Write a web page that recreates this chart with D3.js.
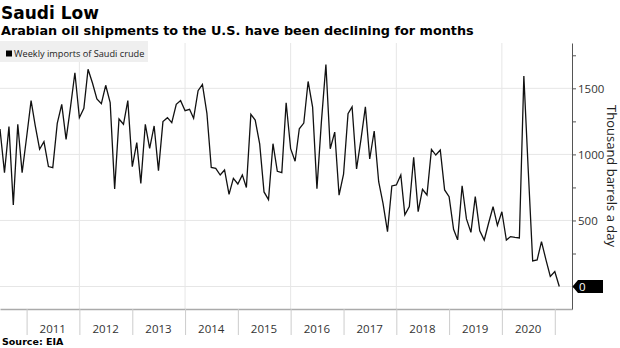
<!DOCTYPE html>
<html>
<head>
<meta charset="utf-8">
<script src="https://cdn.jsdelivr.net/npm/d3@7"></script>
<style>
  body { margin: 0; background: #fff; }
  svg { display: block; }
</style>
</head>
<body>
<div id="chart-area"></div>
<script>
var width = 620;
var height = 348;
var plotLeft = 0, plotRight = 572, plotTop = 43, plotBottom = 309;

// monthly points, first one is July 2010
var startMonth = new Date(2010, 6, 1);
var imports = [
  1192, 862, 1210, 618, 1228, 862, 1130, 1407, 1222, 1039, 1097, 908,
  900, 1235, 1379, 1114, 1361, 1618, 1278, 1349, 1644, 1538, 1419, 1384,
  1523, 1392, 739, 1268, 1228, 1407, 907, 1089, 781, 1228, 1046, 1215,
  877, 1248, 1278, 1240, 1379, 1407, 1331, 1341, 1273, 1482, 1530, 1311,
  902, 895, 844, 882, 698, 819, 776, 845, 749, 1303, 1260, 1080,
  716, 658, 1081, 872, 862, 1391, 1043, 948, 1194, 1237, 1552, 1358,
  741, 1250, 1680, 1043, 1169, 691, 850, 1308, 1360, 890, 1110, 1360,
  965, 1177, 793, 630, 416, 761, 769, 844, 542, 605, 978, 567,
  736, 693, 1038, 995, 1033, 731, 680, 433, 353, 763, 512, 410,
  681, 422, 352, 479, 604, 463, 566, 352, 378, 372, 368, 1593,
  890, 194, 202, 340, 202, 76, 113, 0
];
var years = [2011, 2012, 2013, 2014, 2015, 2016, 2017, 2018, 2019, 2020];
var tickYears = [2011, 2012, 2013, 2014, 2015, 2016, 2017, 2018, 2019, 2020, 2021];
var gridYears = [2012, 2014, 2016, 2018, 2020];
var yTicks = [0, 500, 1000, 1500];
var yAllTicks = [0, 250, 500, 750, 1000, 1250, 1500, 1750];

var months = d3.timeMonth.range(startMonth, d3.timeMonth.offset(startMonth, imports.length));

var svg = d3.select("#chart-area").append("svg")
    .attr("width", width)
    .attr("height", height);

var x = d3.scaleTime()
    .domain([new Date(2010, 6, 1), new Date(2021, 3, 30)])
    .range([plotLeft, plotRight]);

var y = d3.scaleLinear()
    .domain([-170, 1843])
    .range([plotBottom, plotTop]);

// titles
svg.append("text")
    .attr("x", 1).attr("y", 18.5)
    .attr("font-family", "DejaVu Sans")
    .attr("font-weight", "bold")
    .attr("font-size", "17px")
    .attr("fill", "#000")
    .text("Saudi Low");

svg.append("text")
    .attr("x", 1).attr("y", 35)
    .attr("font-family", "DejaVu Sans")
    .attr("font-weight", "bold")
    .attr("font-size", "12.8px")
    .attr("fill", "#000")
    .text("Arabian oil shipments to the U.S. have been declining for months");

// grid
svg.selectAll(".hgrid").data(yTicks).enter().append("line")
    .attr("x1", plotLeft).attr("x2", plotRight)
    .attr("y1", d => y(d)).attr("y2", d => y(d))
    .attr("stroke", "#e6e6e6").attr("stroke-width", 1);

svg.selectAll(".vgrid").data(gridYears).enter().append("line")
    .attr("x1", d => x(new Date(d, 0, 1))).attr("x2", d => x(new Date(d, 0, 1)))
    .attr("y1", plotTop).attr("y2", plotBottom)
    .attr("stroke", "#e6e6e6").attr("stroke-width", 1);

// legend
svg.append("rect")
    .attr("x", 0).attr("y", 41)
    .attr("width", 148).attr("height", 21)
    .attr("fill", "#efefef");
svg.append("rect")
    .attr("x", 6).attr("y", 50.5)
    .attr("width", 6).attr("height", 6)
    .attr("fill", "#000");
svg.append("text")
    .attr("x", 14).attr("y", 57)
    .attr("font-family", "Open Sans")
    .attr("font-size", "9.2px")
    .attr("fill", "#222")
    .text("Weekly imports of Saudi crude");

// x axis
var xAxis = d3.axisBottom(x)
    .tickValues(tickYears.map(d => new Date(d, 0, 1)))
    .tickSize(26)
    .tickSizeOuter(0)
    .tickFormat("");
var gx = svg.append("g")
    .attr("transform", "translate(0," + plotBottom + ")")
    .call(xAxis);
gx.select(".domain").attr("stroke", "#aaa").attr("stroke-width", 1.5);
gx.selectAll(".tick line").attr("stroke", "#ccc");

svg.selectAll(".xlabel").data(years).enter().append("text")
    .attr("x", d => x(new Date(d, 6, 1)))
    .attr("y", 333)
    .attr("text-anchor", "middle")
    .attr("font-family", "Open Sans")
    .attr("font-size", "11.5px")
    .attr("fill", "#333")
    .text(d => d);

// y axis on the right
var yAxis = d3.axisRight(y)
    .tickValues(yAllTicks)
    .tickSize(4)
    .tickSizeOuter(0)
    .tickPadding(2)
    .tickFormat(d => (d % 500 === 0 && d !== 0) ? d : "");
var gy = svg.append("g")
    .attr("transform", "translate(" + plotRight + ",0)")
    .call(yAxis);
gy.select(".domain").attr("stroke", "#555");
gy.selectAll(".tick line").attr("stroke", "#555");
gy.selectAll(".tick text")
    .attr("font-family", "Open Sans")
    .attr("font-size", "11.5px")
    .attr("fill", "#333");

// zero flag
var y0 = y(0);
svg.append("path")
    .attr("d", "M" + (plotRight + 0.5) + "," + y0 + " L" + (plotRight + 6) + "," + (y0 - 6.5) +
        " L603," + (y0 - 6.5) + " L603," + (y0 + 6.5) + " L" + (plotRight + 6) + "," + (y0 + 6.5) + " Z")
    .attr("fill", "#000");
svg.append("text")
    .attr("x", plotRight + 7)
    .attr("y", y0 + 4)
    .attr("font-family", "Open Sans")
    .attr("font-size", "11.5px")
    .attr("fill", "#fff")
    .text("0");

// axis title
svg.append("text")
    .attr("transform", "translate(607," + ((plotTop + plotBottom) / 2) + ") rotate(90)")
    .attr("text-anchor", "middle")
    .attr("font-family", "Open Sans")
    .attr("font-size", "13px")
    .attr("fill", "#222")
    .text("Thousand barrels a day");

// line
svg.append("clipPath").attr("id", "plot-clip")
    .append("rect")
    .attr("x", plotLeft).attr("y", plotTop)
    .attr("width", plotRight - plotLeft).attr("height", plotBottom - plotTop);

var line = d3.line()
    .x((d, i) => x(months[i]))
    .y(d => y(d));

svg.append("path")
    .datum(imports)
    .attr("clip-path", "url(#plot-clip)")
    .attr("d", line)
    .attr("fill", "none")
    .attr("stroke", "#111")
    .attr("stroke-width", 1.3);

// source
svg.append("text")
    .attr("x", 2).attr("y", 345)
    .attr("font-family", "DejaVu Sans")
    .attr("font-weight", "bold")
    .attr("font-size", "9.5px")
    .attr("fill", "#000")
    .text("Source: EIA");
</script>
</body>
</html>
